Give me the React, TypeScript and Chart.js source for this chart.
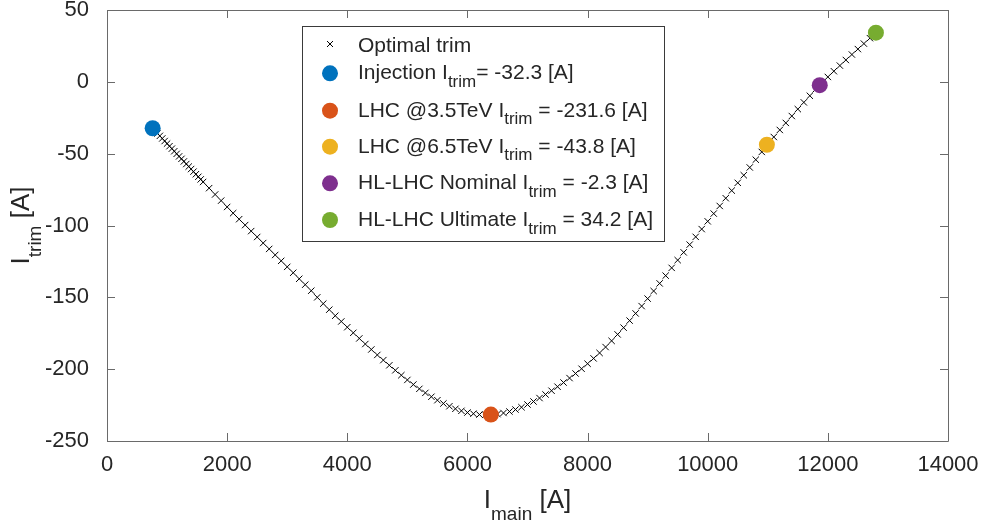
import React, { useEffect, useRef } from "react";
import { Chart, registerables } from "chart.js";

Chart.register(...registerables);

// ---------- data ----------
const OPT_X = [
  760, 800, 840, 880, 920, 960, 1000, 1040, 1080, 1120, 1160, 1200, 1240, 1280, 1320, 1360, 1400, 1440, 1480, 1520, 1560,
  1600, 1700, 1800, 1900, 2000, 2100, 2200, 2300, 2400, 2500, 2600, 2700, 2800, 2900, 3000, 3100, 3200, 3300, 3400, 3500,
  3600, 3700, 3800, 3900, 4000, 4100, 4200, 4300, 4400, 4500, 4600, 4700, 4800, 4900, 5000, 5100, 5200, 5300, 5400, 5500,
  5600, 5700, 5800, 5900, 6000, 6100, 6200, 6300, 6400, 6500, 6600, 6700, 6800, 6900, 7000, 7100, 7200, 7300, 7400, 7500,
  7600, 7700, 7800, 7900, 8000, 8100, 8200, 8300, 8400, 8500, 8600, 8700, 8800, 8900, 9000, 9100, 9200, 9300, 9400, 9500,
  9600, 9700, 9800, 9900, 10000, 10100, 10200, 10300, 10400, 10500, 10600, 10700, 10800, 10900, 11000, 11100, 11200, 11300,
  11400, 11500, 11600, 11700, 11800, 11900, 12000, 12100, 12200, 12300, 12400, 12500, 12600, 12700, 12800,
];
const OPT_Y = [
  -32.3, -34.1, -35.9, -37.6, -39.4, -41.2, -43.0, -44.8, -46.5, -48.3, -50.1, -51.9, -53.6, -55.4, -57.2, -59.0, -60.7, -62.5, -64.3, -66.1, -67.9,
  -69.7, -74.0, -78.4, -82.7, -87.1, -91.4, -95.6, -99.7, -103.9, -108.0, -112.2, -116.3, -120.5, -124.6, -128.8, -132.9, -137.1, -141.2, -145.4, -150.0,
  -154.4, -158.6, -162.8, -166.8, -170.8, -174.7, -178.6, -182.5, -186.3, -190.1, -193.7, -197.3, -200.8, -204.2, -207.5, -210.7, -213.7, -216.5, -219.2, -221.6,
  -223.9, -225.8, -227.6, -229.0, -230.2, -231.0, -231.6, -231.8, -231.7, -231.3, -230.5, -229.5, -228.1, -226.5, -224.6, -222.5, -220.1, -217.6, -215.0, -212.2,
  -209.3, -206.2, -203.0, -199.7, -196.2, -192.5, -188.7, -184.6, -180.3, -175.8, -171.1, -166.2, -161.2, -156.1, -150.9, -145.6, -140.3, -134.9, -129.5, -124.1,
  -118.7, -113.3, -107.9, -102.5, -97.1, -91.7, -86.4, -81.0, -75.7, -70.3, -65.0, -59.6, -54.2, -48.8, -43.5, -38.4, -33.5, -28.6,
  -23.8, -19.0, -14.3, -9.7, -5.1, -0.8, 3.4, 7.4, 11.3, 15.2, 19.0, 22.8, 26.6, 30.4, 34.2,
];

const OP_NAMES = ["Injection", "LHC @3.5TeV", "LHC @6.5TeV", "HL-LHC Nominal", "HL-LHC Ultimate"];
const OP_X = [760, 6390, 10985, 11865, 12800];
const OP_Y = [-32.3, -231.6, -43.8, -2.3, 34.2];
const OP_COLORS = ["#0072BD", "#D95319", "#EDB120", "#7E2F8E", "#77AC30"];

const OPT_LABEL = "Optimal trim";
const X_TICKS = [0, 2000, 4000, 6000, 8000, 10000, 12000, 14000];
const Y_TICKS = [-250, -200, -150, -100, -50, 0, 50];

// ---------- style ----------
const FONT = "'Liberation Sans', Arial, Helvetica, sans-serif";
const TEXT = "#262626";
const AXIS = "#6a6a6a";

type Part = [string, boolean];

function drawRich(
  ctx: CanvasRenderingContext2D,
  parts: Part[],
  x: number,
  y: number,
  fs: number,
  subFs: number,
  subDy: number,
  center: boolean
) {
  const widths = parts.map(([t, sub]) => {
    ctx.font = `${sub ? subFs : fs}px ${FONT}`;
    return ctx.measureText(t).width;
  });
  const total = widths.reduce((a, b) => a + b, 0);
  let cx = center ? x - total / 2 : x;
  ctx.textAlign = "left";
  ctx.textBaseline = "alphabetic";
  parts.forEach(([t, sub], i) => {
    ctx.font = `${sub ? subFs : fs}px ${FONT}`;
    ctx.fillText(t, cx, sub ? y + subDy : y);
    cx += widths[i];
  });
}

const overlayPlugin = {
  id: "matlabOverlay",
  afterDatasetsDraw(chart: any) {
    const { ctx, chartArea } = chart;
    const { left, right, top, bottom } = chartArea;
    const xs = chart.scales.x;
    const ys = chart.scales.y;
    ctx.save();
    ctx.strokeStyle = AXIS;
    ctx.lineWidth = 1;
    ctx.beginPath();
    ctx.rect(Math.round(left) + 0.5, Math.round(top) + 0.5, Math.round(right - left), Math.round(bottom - top));
    ctx.stroke();
    const TL = 8;
    ctx.beginPath();
    X_TICKS.forEach((v) => {
      const px = Math.round(xs.getPixelForValue(v)) + 0.5;
      ctx.moveTo(px, bottom);
      ctx.lineTo(px, bottom - TL);
      ctx.moveTo(px, top);
      ctx.lineTo(px, top + TL);
    });
    Y_TICKS.forEach((v) => {
      const py = Math.round(ys.getPixelForValue(v)) + 0.5;
      ctx.moveTo(left, py);
      ctx.lineTo(left + TL, py);
      ctx.moveTo(right, py);
      ctx.lineTo(right - TL, py);
    });
    ctx.stroke();
    ctx.restore();
  },
  afterDraw(chart: any) {
    const { ctx, chartArea } = chart;
    const { left, right, top, bottom } = chartArea;
    ctx.save();
    ctx.fillStyle = TEXT;
    // x title
    drawRich(ctx, [["I", false], ["main", true], [" [A]", false]], (left + right) / 2, 508, 26, 19, 12, true);
    // y title
    ctx.save();
    ctx.translate(29, (top + bottom) / 2);
    ctx.rotate(-Math.PI / 2);
    drawRich(ctx, [["I", false], ["trim", true], [" [A]", false]], 0, 0, 26, 19, 12, true);
    ctx.restore();

    // legend box
    const bx = 302, by = 26, bw = 362, bh = 215;
    ctx.fillStyle = "#ffffff";
    ctx.fillRect(bx, by, bw, bh);
    ctx.strokeStyle = "#3a3a3a";
    ctx.lineWidth = 1;
    ctx.strokeRect(bx + 0.5, by + 0.5, bw, bh);

    const mx = 330;
    const textX = 358;
    const rowsY = [44, 73.3, 110.7, 146.7, 183.3, 220];
    // optimal trim marker
    ctx.strokeStyle = "#000";
    ctx.lineWidth = 1;
    ctx.beginPath();
    ctx.moveTo(mx - 3, rowsY[0] - 3);
    ctx.lineTo(mx + 3, rowsY[0] + 3);
    ctx.moveTo(mx + 3, rowsY[0] - 3);
    ctx.lineTo(mx - 3, rowsY[0] + 3);
    ctx.stroke();
    ctx.fillStyle = TEXT;
    ctx.font = `21px ${FONT}`;
    ctx.textAlign = "left";
    ctx.textBaseline = "alphabetic";
    ctx.fillText(OPT_LABEL, textX, rowsY[0] + 7.5);

    OP_NAMES.forEach((name, i) => {
      const cy = rowsY[i + 1];
      ctx.fillStyle = OP_COLORS[i];
      ctx.beginPath();
      ctx.arc(mx, cy, 8, 0, Math.PI * 2);
      ctx.fill();
      ctx.fillStyle = TEXT;
      const eq = (i === 0 ? "= " : " = ") + OP_Y[i].toFixed(1) + " [A]";
      drawRich(ctx, [[name + " I", false], ["trim", true], [eq, false]], textX, cy + 6, 21, 17, 7.5, false);
    });
    ctx.restore();
  },
};

export default function App() {
  const canvasRef = useRef<HTMLCanvasElement | null>(null);

  useEffect(() => {
    if (!canvasRef.current) return;
    const datasets: any[] = [
      {
        label: OPT_LABEL,
        data: OPT_X.map((x, i) => ({ x, y: OPT_Y[i] })),
        pointStyle: "crossRot",
        pointRadius: 4.5,
        pointHoverRadius: 4.5,
        borderColor: "#000000",
        backgroundColor: "#000000",
        borderWidth: 1,
        showLine: false,
        order: 1,
      },
      ...OP_NAMES.map((name, i) => ({
        label: name,
        data: [{ x: OP_X[i], y: OP_Y[i] }],
        pointStyle: "circle",
        pointRadius: 8,
        pointHoverRadius: 8,
        backgroundColor: OP_COLORS[i],
        borderColor: OP_COLORS[i],
        borderWidth: 0,
        showLine: false,
        order: 0,
      })),
    ];

    const tickFont = { family: FONT, size: 22, lineHeight: 0.9 };
    const chart = new Chart(canvasRef.current, {
      type: "scatter",
      data: { datasets },
      options: {
        animation: false,
        responsive: false,
        devicePixelRatio: 1,
        layout: { padding: { top: 10, right: 37, left: 0, bottom: 0 } },
        plugins: { legend: { display: false }, tooltip: { enabled: false } },
        scales: {
          x: {
            type: "linear",
            min: 0,
            max: 14000,
            afterBuildTicks: (s: any) => {
              s.ticks = X_TICKS.map((v) => ({ value: v }));
            },
            afterFit: (s: any) => {
              s.height = 83;
              s.paddingLeft = 0;
              s.paddingRight = 0;
            },
            ticks: {
              autoSkip: false,
              maxRotation: 0,
              padding: 6,
              color: TEXT,
              font: tickFont,
              callback: (v: any) => String(v),
            },
            grid: { display: false },
            border: { display: false },
          },
          y: {
            type: "linear",
            min: -250,
            max: 50,
            afterBuildTicks: (s: any) => {
              s.ticks = Y_TICKS.map((v) => ({ value: v }));
            },
            afterFit: (s: any) => {
              s.width = 107;
              s.paddingTop = 0;
              s.paddingBottom = 0;
            },
            ticks: {
              autoSkip: false,
              padding: 10,
              color: TEXT,
              font: tickFont,
              callback: (v: any) => String(v),
            },
            grid: { display: false },
            border: { display: false },
          },
        },
      } as any,
      plugins: [overlayPlugin],
    });
    return () => chart.destroy();
  }, []);

  return (
    <div style={{ position: "absolute", left: 0, top: 0, width: 985, height: 524, background: "#fff" }}>
      <canvas ref={canvasRef} width={985} height={524} style={{ display: "block", width: 985, height: 524 }} />
    </div>
  );
}
